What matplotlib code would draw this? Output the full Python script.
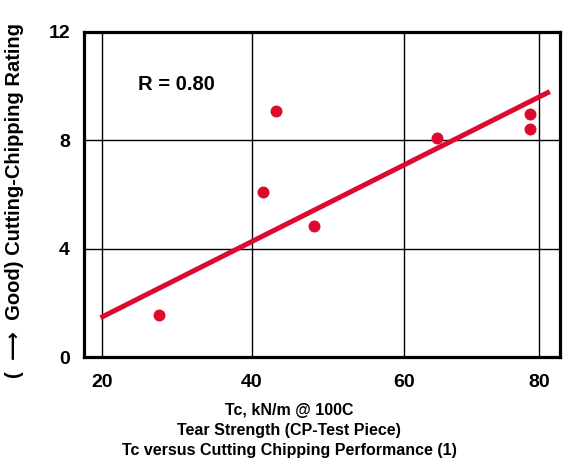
# coding: utf-8

import numpy as np
import matplotlib
matplotlib.use('Agg')
import matplotlib.pyplot as plt

######################
# Data
tear_strength = [27.6, 41.4, 43.2, 48.2, 64.9, 78.6, 78.7]
chip_rating = [1.56, 6.08, 9.09, 4.85, 8.08, 8.98, 8.41]
# Regression line end points
fit_x = [19.8, 81.6]
fit_y = [1.45, 9.80]
x_ticks = [20, 40, 60, 80]
y_ticks = [0, 4, 8, 12]
r_text = 'R = 0.80'
y_label = '(  \u27f6  Good) Cutting-Chipping Rating'
x_title = ['Tc, kN/m @ 100C',
           'Tear Strength (CP-Test Piece)',
           'Tc versus Cutting Chipping Performance (1)']

# Styling
red = '#dc0a2d'
plt.rcParams['font.family'] = ['Liberation Sans', 'DejaVu Sans']
plt.rcParams['font.weight'] = 'bold'
plt.rcParams['axes.labelweight'] = 'bold'

# The printed grid is not evenly spaced: map the ticks onto their drawn spacing
knots_data = [0, 20, 40, 60, 80, 100]
knots_draw = [-150, 0, 150, 302, 437, 572]


def fwd(x):
    return np.interp(x, knots_data, knots_draw)


def inv(x):
    return np.interp(x, knots_draw, knots_data)


fig = plt.figure(figsize=(5.64, 4.58), dpi=100)
ax = fig.add_axes([84 / 564, 1 - 357 / 458, (560 - 84) / 564, (357 - 32) / 458])
ax.set_xscale('function', functions=(fwd, inv))
ax.set_xlim(inv(-18), inv(458))
ax.set_ylim(0, 12)

# Grid
ax.set_xticks(x_ticks)
ax.set_yticks(y_ticks)
ax.grid(True, color='black', linewidth=1.0)
ax.set_axisbelow(True)
for s in ax.spines.values():
    s.set_linewidth(2.3)
ax.tick_params(length=0, labelsize=14)
ax.tick_params(axis='x', pad=12)
ax.tick_params(axis='y', pad=10)

# Fit line and points
ax.plot(fit_x, fit_y, color=red, linewidth=3.6, solid_capstyle='butt', zorder=3)
ax.plot(tear_strength, chip_rating, 'o', color=red, markersize=8.6,
        markeredgewidth=0, zorder=4)

ax.text(0.195, 0.838, r_text, transform=ax.transAxes, fontsize=14.5,
        ha='center', va='center')

ax.set_ylabel(y_label, fontsize=14.5, fontweight='bold')
ax.yaxis.set_label_coords(-0.126, 0.48)

for i, line in enumerate(x_title):
    fig.text(289 / 564, 1 - (411 + 19.5 * i) / 458, line, fontsize=11.5,
             ha='center', va='center')

fig.savefig('out.png', dpi=100)
